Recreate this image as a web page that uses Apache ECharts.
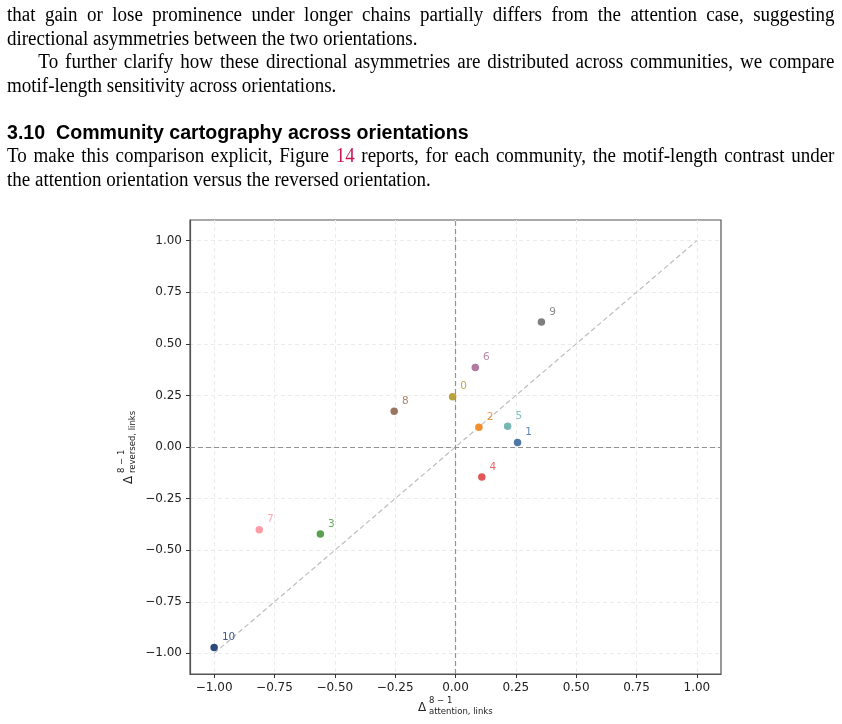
<!DOCTYPE html>
<html>
<head>
<meta charset="utf-8">
<script src="https://cdn.jsdelivr.net/npm/echarts@6/dist/echarts.min.js"></script>
<style>
  html, body { margin: 0; padding: 0; background: #fff; }
  body { width: 842px; height: 724px; position: relative; overflow: hidden; }
  #chart { position: absolute; left: 0; top: 0; width: 842px; height: 724px; }
  .txt { position: absolute; left: 7px; width: 871px; font-family: 'Liberation Serif', 'Times New Roman', serif; font-size: 20px; line-height: 23.5px; color: #000; transform: scaleX(0.95); transform-origin: 0 0; }
  .ln { white-space: nowrap; }
  .just { text-align: justify; text-align-last: justify; white-space: normal; }
  .ind { padding-left: 33px; }
  .head { position: absolute; left: 7px; top: 121px; font-family: 'Liberation Sans', Arial, sans-serif; font-weight: bold; font-size: 19.6px; color: #000; white-space: nowrap; }
  .ref { color: #cc1452; }
</style>
</head>
<body>
<div id="chart"></div>
<div class="txt" style="top:3px">
  <div class="ln just">that gain or lose prominence under longer chains partially differs from the attention case, suggesting</div>
  <div class="ln">directional asymmetries between the two orientations.</div>
  <div class="ln just ind">To further clarify how these directional asymmetries are distributed across communities, we compare</div>
  <div class="ln">motif-length sensitivity across orientations.</div>
</div>
<div class="head">3.10&nbsp;&nbsp;Community cartography across orientations</div>
<div class="txt" style="top:144px">
  <div class="ln just">To make this comparison explicit, Figure <span class="ref">14</span> reports, for each community, the motif-length contrast under</div>
  <div class="ln">the attention orientation versus the reversed orientation.</div>
</div>
<script>
// ---- data ----
const communities = ['0', '1', '2', '3', '4', '5', '6', '7', '8', '9', '10'];
const attentionDelta = [-0.012, 0.257, 0.097, -0.560, 0.109, 0.216, 0.082, -0.813, -0.254, 0.356, -1.000];
const reversedDelta  = [0.244, 0.022, 0.096, -0.422, -0.145, 0.100, 0.385, -0.401, 0.173, 0.606, -0.971];
const communityColors = ['#bba23a', '#4e79a7', '#f28e2b', '#59a14f', '#e15759', '#76b7b2', '#b07aa1', '#ff9da7', '#9c755f', '#7f7f7f', '#2c4a7e'];
const tickValues = [-1.00, -0.75, -0.50, -0.25, 0.00, 0.25, 0.50, 0.75, 1.00];
const axisRange = [-1.1, 1.1];
const diagonalLine = [[-1, -1], [1, 1]];

function fmt(v) {
  const s = Math.abs(v).toFixed(2);
  return (v < -1e-9 ? '\u2212' : '') + s;
}

const chart = echarts.init(document.getElementById('chart'), null, { renderer: 'canvas' });

const axisCommon = {
  type: 'value',
  min: axisRange[0],
  max: axisRange[1],
  axisLine: { show: true, onZero: false, lineStyle: { color: '#555', width: 1.2 } },
  axisTick: { show: true, inside: false, length: 4, customValues: tickValues, lineStyle: { color: '#333', width: 1 } },
  axisLabel: { customValues: tickValues, formatter: fmt, fontFamily: 'DejaVu Sans', fontSize: 12, color: '#222' },
  splitLine: { show: true, lineStyle: { color: '#ebebeb', type: [4, 3], width: 1 } }
};

const scatterData = communities.map((c, i) => ({
  name: c,
  value: [attentionDelta[i], reversedDelta[i]],
  itemStyle: { color: communityColors[i], opacity: 1 },
  label: { color: communityColors[i] }
}));

const option = {
  animation: false,
  backgroundColor: 'transparent',
  grid: { left: 190, right: 121, top: 220, bottom: 50, show: true, borderColor: '#555', borderWidth: 1.2, containLabel: false },
  xAxis: Object.assign({}, axisCommon, { axisLabel: Object.assign({}, axisCommon.axisLabel, { margin: 8 }) }),
  yAxis: Object.assign({}, axisCommon, { axisLabel: Object.assign({}, axisCommon.axisLabel, { margin: 8 }) }),
  series: [
    {
      type: 'line',
      data: diagonalLine,
      symbol: 'none',
      silent: true,
      z: 1,
      lineStyle: { color: '#bdbdbd', width: 1.2, type: [5, 3] },
      markLine: {
        silent: true,
        symbol: 'none',
        label: { show: false },
        lineStyle: { color: '#939393', width: 1.2, type: [5, 3] },
        data: [{ xAxis: 0 }, { yAxis: 0 }]
      }
    },
    {
      type: 'scatter',
      data: scatterData,
      symbolSize: 7.5,
      z: 3,
      label: {
        show: true,
        position: 'right',
        distance: 4,
        offset: [0, -10],
        formatter: p => p.name,
        fontFamily: 'DejaVu Sans',
        fontSize: 10.5,
        opacity: 0.9
      }
    }
  ],
  graphic: [
    {
      type: 'group',
      x: 455, y: 708,
      children: [
        { type: 'text', x: -37, y: 0, style: { text: '\u0394', fontFamily: 'DejaVu Sans', fontSize: 12, fill: '#222', verticalAlign: 'middle', align: 'left' } },
        { type: 'text', x: -26, y: -7, style: { text: '8 \u2212 1', fontFamily: 'DejaVu Sans', fontSize: 8.5, fill: '#222', verticalAlign: 'middle', align: 'left' } },
        { type: 'text', x: -26, y: 4, style: { text: 'attention, links', fontFamily: 'DejaVu Sans', fontSize: 8.5, fill: '#222', verticalAlign: 'middle', align: 'left' } }
      ]
    },
    {
      type: 'group',
      x: 129, y: 447,
      rotation: Math.PI / 2,
      children: [
        { type: 'text', x: -37, y: 0, style: { text: '\u0394', fontFamily: 'DejaVu Sans', fontSize: 12, fill: '#222', verticalAlign: 'middle', align: 'left' } },
        { type: 'text', x: -26, y: -7, style: { text: '8 \u2212 1', fontFamily: 'DejaVu Sans', fontSize: 8.5, fill: '#222', verticalAlign: 'middle', align: 'left' } },
        { type: 'text', x: -26, y: 4, style: { text: 'reversed, links', fontFamily: 'DejaVu Sans', fontSize: 8.5, fill: '#222', verticalAlign: 'middle', align: 'left' } }
      ]
    }
  ]
};

chart.setOption(option);
</script>
</body>
</html>
